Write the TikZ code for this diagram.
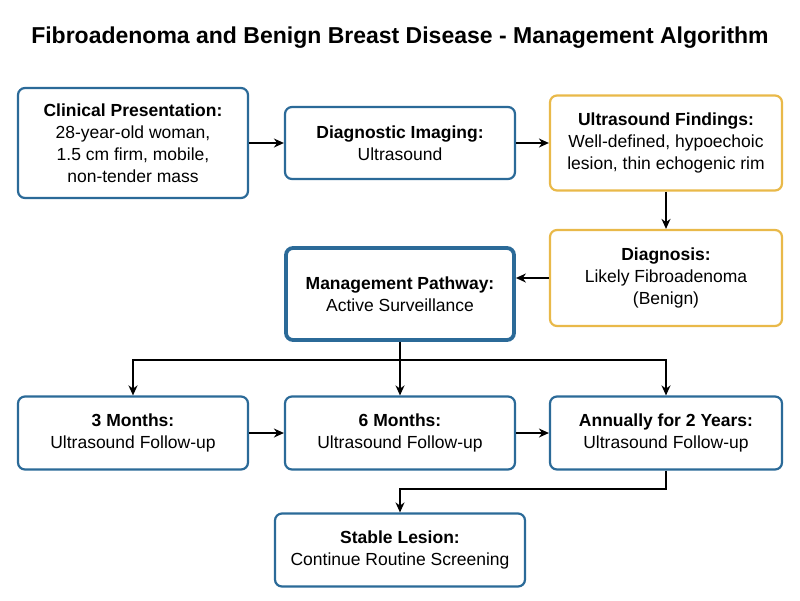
\documentclass[tikz,border=0pt]{standalone}
\usepackage{fontspec}
\setmainfont{Liberation Sans}
\usetikzlibrary{positioning, calc, arrows.meta}
\definecolor{boxblue}{HTML}{2B6A98}
\definecolor{boxgold}{HTML}{E9B949}
\tikzset{
    stage/.style={draw=boxblue, line width=2.2pt, rounded corners=7pt, fill=white, align=center, font=\fontsize{17.5}{22}\selectfont},
    finding/.style={stage, draw=boxgold},
    pathway/.style={stage, line width=3.8pt},
    link/.style={-{Stealth[length=10pt,width=9pt]}, line width=1.8pt}
}
\begin{document}
\begin{tikzpicture}[x=1pt, y=-1pt]
    \useasboundingbox (0,0) rectangle (800,600);

    \node[font=\fontsize{23}{26}\selectfont\bfseries] (title) at (400,38) {Fibroadenoma and Benign Breast Disease - Management Algorithm};

    % top row
    \node[stage, minimum width=230pt, minimum height=110pt] (clinical) at (133,143) {\textbf{Clinical Presentation:}\\28-year-old woman,\\1.5 cm firm, mobile,\\non-tender mass};
    \node[stage, minimum width=230pt, minimum height=72pt] (imaging) at (400,143) {\textbf{Diagnostic Imaging:}\\Ultrasound};
    \node[finding, minimum width=232pt, minimum height=95pt] (findings) at (666,143) {\textbf{Ultrasound Findings:}\\Well-defined, hypoechoic\\lesion, thin echogenic rim};

    % middle row
    \node[finding, minimum width=232pt, minimum height=96pt] (diagnosis) at (666,278) {\textbf{Diagnosis:}\\Likely Fibroadenoma\\(Benign)};
    \node[pathway, minimum width=228pt, minimum height=92pt] (pathway) at (400,294) {\textbf{Management Pathway:}\\Active Surveillance};

    % follow-up row
    \node[stage, minimum width=230pt, minimum height=73pt] (month3) at (133,433) {\textbf{3 Months:}\\Ultrasound Follow-up};
    \node[stage, minimum width=230pt, minimum height=73pt] (month6) at (400,433) {\textbf{6 Months:}\\Ultrasound Follow-up};
    \node[stage, minimum width=232pt, minimum height=73pt] (annual) at (666,433) {\textbf{Annually for 2 Years:}\\Ultrasound Follow-up};

    \node[stage, minimum width=250pt, minimum height=73pt] (stable) at (400,550) {\textbf{Stable Lesion:}\\Continue Routine Screening};

    \coordinate (split) at ($(pathway.south)+(0,18)$);
    \coordinate (merge) at ($(annual.south)+(0,18)$);

    \draw[link] (clinical) -- (imaging);
    \draw[link] (imaging) -- (findings);
    \draw[link] (findings) -- (diagnosis);
    \draw[link] (diagnosis.west) -- (diagnosis.west -| pathway.east);
    \draw[link] (pathway.south) -- (month6.north);
    \draw[link] (split) -| (month3.north);
    \draw[link] (split) -| (annual.north);
    \draw[link] (month3) -- (month6);
    \draw[link] (month6) -- (annual);
    \draw[link] (annual.south) -- (merge) -| (stable.north);

\end{tikzpicture}
\end{document}
